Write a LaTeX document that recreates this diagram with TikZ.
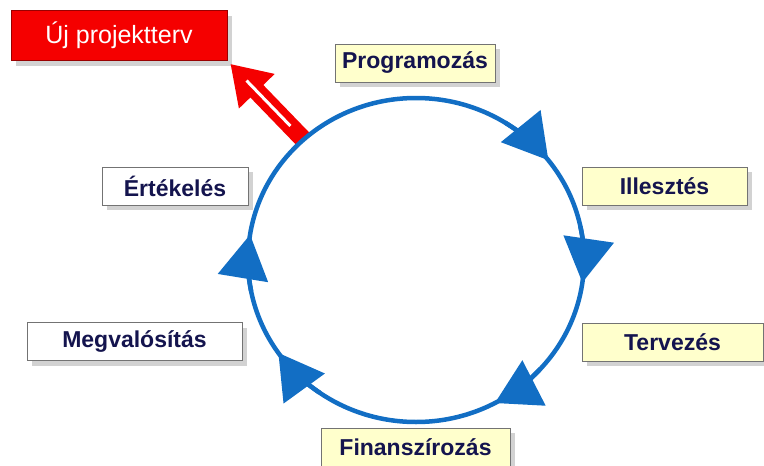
\documentclass[tikz,border=0pt]{standalone}
\usepackage{fontspec}
\setmainfont{Liberation Sans}
\usetikzlibrary{arrows.meta,shadows,calc}
\definecolor{cycleblue}{RGB}{18,110,196}
\definecolor{labelnavy}{RGB}{20,20,78}
\definecolor{notepaper}{RGB}{255,255,204}
\definecolor{alertred}{RGB}{245,0,0}
\tikzset{
  boxshadow/.style={drop shadow={shadow xshift=5pt, shadow yshift=-5pt,
      fill=black!35, opacity=0.5}},
  phase/.style={draw=black!55, line width=0.8pt, fill=notepaper,
    minimum height=38pt, inner sep=0pt, text=labelnavy, boxshadow,
    font=\fontsize{23}{27}\selectfont\bfseries},
  review/.style={phase, fill=white},
  newplan/.style={draw=red!60!black, line width=0.8pt, fill=alertred,
    minimum height=50pt, inner sep=0pt, text=white, boxshadow,
    font=\fontsize{25}{29}\selectfont},
  cycleline/.style={cycleblue, line width=4.5pt},
}
\begin{document}
\begin{tikzpicture}[x=1pt, y=-1pt]
  \useasboundingbox (0,0) rectangle (764,466);
  % Label the phases round the cycle.
  \node[newplan, minimum width=216pt] (plan) at (119,35.5) {Új projektterv};
  \node[phase, minimum width=160pt] (prog) at (415,63) {Programozás};
  \node[phase, minimum width=165pt] (ill) at (664.5,186) {Illesztés};
  \node[phase, minimum width=181pt] (terv) at (672.5,342) {Tervezés};
  \node[phase, minimum width=189pt] (fin) at (415.5,447) {Finanszírozás};
  \node[review, minimum width=215pt] (megv) at (134.5,341.5) {Megvalósítás};
  \node[review, minimum width=146pt] (ert) at (175,186) {Értékelés};
  % Centre of the cycle and the point where the new plan leaves it.
  \coordinate (hub) at (416,260);
  \path (hub) ++(228:168 and 162) coordinate (exit);
  \coordinate (tip) at ([shift={(3,3)}]plan.south east);
  % Draw the way out to the new plan.
  \draw[alertred, line width=18pt, -{Triangle[length=38pt, width=47pt]}]
    (exit) -- (tip);
  \draw[white, line width=3pt]
    ($(exit)!0.18!(tip)$) -- ($(exit)!0.78!(tip)$);
  % Draw the cycle and its arrow heads.
  \draw[cycleline] (hub) ellipse [x radius=168, y radius=162];
  \foreach \a [evaluate=\a as \b using \a-20] in {-38,8,62,145,189}
    \draw[cycleline, -{Triangle[length=44pt, width=50pt]}]
      (hub) ++(\b:168 and 162)
      arc[start angle=\b, end angle=\a, x radius=168, y radius=162];
\end{tikzpicture}
\end{document}
